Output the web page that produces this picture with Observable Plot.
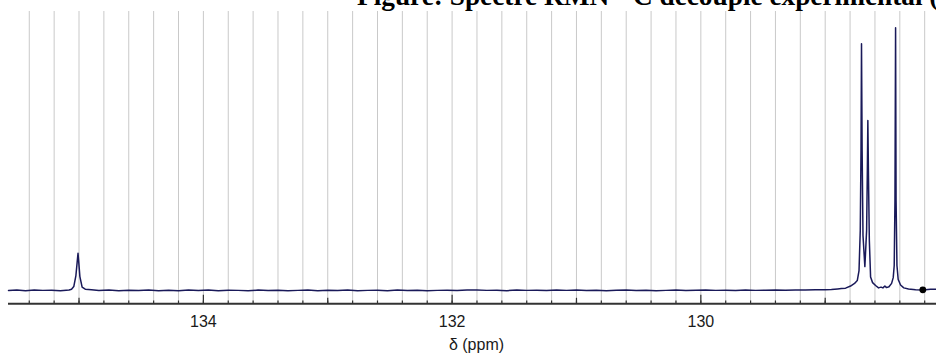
<!DOCTYPE html>
<html>
<head>
<meta charset="utf-8">
<script src="https://cdn.jsdelivr.net/npm/d3@7"></script>
<script src="https://cdn.jsdelivr.net/npm/@observablehq/plot@0.6"></script>
<style>
  html, body { margin: 0; padding: 0; background: #fff; overflow: hidden; width: 936px; height: 356px; }
  #wrap { position: relative; width: 936px; height: 356px; overflow: hidden; }
  #title {
    position: absolute; left: 357px; top: -17px; z-index: 2;
    font: bold 27.3px/27px "Liberation Serif", "Times New Roman", serif;
    white-space: nowrap; color: #000;
  }
</style>
</head>
<body>
<div id="wrap">
  <div id="title">Figure: Spectre RMN <sup style="font-size:0.62em;line-height:0">13</sup>C découplé expérimental (100 MHz)</div>
  <div id="chart"></div>
</div>
<script>
// Chemical shift (ppm) and relative intensity of the 13C trace
const shiftPpm = [
  135.567, 135.50, 135.43, 135.36, 135.29, 135.22, 135.15, 135.08, 135.06,
  135.042, 135.025, 135.015, 135.008, 135.002, 134.993, 134.975, 134.95, 134.90,
  134.84, 134.76, 134.68, 134.60, 134.52, 134.44, 134.36, 134.28, 134.20, 134.12,
  134.04, 133.96, 133.88, 133.80, 133.72, 133.64, 133.56, 133.48, 133.40, 133.32,
  133.24, 133.16, 133.08, 133.00, 132.92, 132.84, 132.76, 132.68, 132.60, 132.52,
  132.44, 132.36, 132.28, 132.20, 132.12, 132.04, 131.96, 131.88, 131.80, 131.72,
  131.64, 131.56, 131.48, 131.40, 131.32, 131.24, 131.16, 131.08, 131.00, 130.92,
  130.84, 130.76, 130.68, 130.60, 130.52, 130.44, 130.36, 130.28, 130.20, 130.12,
  130.04, 129.96, 129.88, 129.80, 129.72, 129.64, 129.56, 129.48, 129.40, 129.32,
  129.24, 129.16, 129.08, 129.00, 128.95, 128.90, 128.87, 128.836, 128.796, 128.764,
  128.742, 128.728, 128.718, 128.712, 128.708, 128.703, 128.696, 128.681, 128.667,
  128.661, 128.657, 128.652, 128.645, 128.635, 128.619, 128.595, 128.571, 128.551,
  128.536, 128.520, 128.507, 128.487, 128.466, 128.453, 128.445, 128.439, 128.434,
  128.430, 128.423, 128.413, 128.394, 128.368, 128.330, 128.273, 128.215, 128.153,
  128.105
];
const intensity = [
  0.0, 0.15, -0.05, 0.2, 0.05, 0.1, -0.1, 0.2, 0.5,
  1.5, 5.7, 10.7, 14.2, 10.7, 5.3, 1.3, 0.5, 0.3,
  0.0, 0.15, -0.1, 0.1, 0.0, 0.2, -0.05, 0.1, -0.1, 0.15,
  0.0, 0.2, -0.05, 0.1, 0.05, -0.1, 0.15, 0.0, 0.1, -0.1,
  0.05, 0.15, -0.05, 0.1, 0.0, 0.15, -0.1, 0.05, 0.1, -0.05,
  0.15, 0.0, 0.1, -0.1, 0.05, 0.1, 0.0, 0.15, 0.2, 0.05,
  0.1, -0.05, 0.15, 0.05, 0.1, 0.0, 0.2, 0.05, 0.15, 0.0,
  0.1, -0.05, 0.1, 0.15, 0.0, 0.1, -0.1, 0.05, 0.15, 0.0,
  0.1, 0.2, 0.05, 0.1, 0.0, 0.15, 0.05, 0.1, 0.2, 0.1,
  0.15, 0.2, 0.25, 0.3, 0.4, 0.6, 0.75, 0.9, 1.7, 2.7,
  3.8, 7.6, 22.8, 53.3, 93.9, 53.3, 20.9, 9.1, 22.8,
  45.7, 64.7, 43.8, 19.0, 5.1, 3.0, 1.9, 1.0, 1.3,
  1.0, 1.7, 1.1, 1.4, 2.7, 4.9, 9.5, 34.3, 100,
  34.3, 9.5, 4.2, 2.1, 1.0, 0.6, 0.3, 0.2, 0.45,
  0.45
];

// Single marker point on the baseline
const markerPpm = [128.215];
const markerIntensity = [0.25];

// Axis ticks (ppm)
const labelTicks = [134, 132, 130];
const unitTicks = [135, 133, 131, 129];
const gridTicks = [
  135.4, 135.2, 135.0, 134.8, 134.6, 134.4, 134.2, 134.0, 133.8, 133.6,
  133.4, 133.2, 133.0, 132.8, 132.6, 132.4, 132.2, 132.0, 131.8, 131.6,
  131.4, 131.2, 131.0, 130.8, 130.6, 130.4, 130.2, 130.0, 129.8, 129.6,
  129.4, 129.2, 129.0, 128.8, 128.6, 128.4, 128.2
];
const axisLabel = "δ (ppm)";

const spectrum = shiftPpm.map((p, i) => ({ppm: p, value: intensity[i]}));
const marker = markerPpm.map((p, i) => ({ppm: p, value: markerIntensity[i]}));

const W = 936, H = 356;
const mTop = 11, mBottom = 52.7, mLeft = 8, mRight = 0;
const innerH = H - mTop - mBottom;
const yMin = -5.06, yMax = 106.2;
const ink = "#333";

const chart = Plot.plot({
  width: W,
  height: H,
  marginTop: mTop,
  marginBottom: mBottom,
  marginLeft: mLeft,
  marginRight: mRight,
  style: {fontFamily: "'Liberation Sans', Arial, Helvetica, sans-serif", fontSize: "16px", color: "#1a1a1a", background: "#fff"},
  x: {domain: [135.567, 128.105]},
  y: {domain: [yMin, yMax], axis: null},
  marks: [
    Plot.ruleX(gridTicks, {stroke: "#c9c9c9", strokeWidth: 1}),
    Plot.ruleY([yMin], {stroke: ink, strokeWidth: 2}),
    Plot.ruleX(gridTicks, {stroke: ink, strokeWidth: 1.2, insetTop: innerH - 2.8}),
    Plot.ruleX(unitTicks, {stroke: ink, strokeWidth: 1.2, insetTop: innerH - 5.5}),
    Plot.ruleX(labelTicks, {stroke: ink, strokeWidth: 1.2, insetTop: innerH - 8.5}),
    Plot.axisX(labelTicks, {tickSize: 0, tickPadding: 12, fontSize: 16, label: null, tickFormat: d => String(d)}),
    Plot.line(spectrum, {x: "ppm", y: "value", stroke: "#191959", strokeWidth: 1.5}),
    Plot.dot(marker, {x: "ppm", y: "value", r: 3.4, fill: "#000", stroke: "none"}),
    Plot.text([axisLabel], {frameAnchor: "bottom", dy: 46, dx: 4, fontSize: 16, fill: "#1a1a1a"})
  ]
});

document.getElementById("chart").appendChild(chart);
</script>
</body>
</html>
